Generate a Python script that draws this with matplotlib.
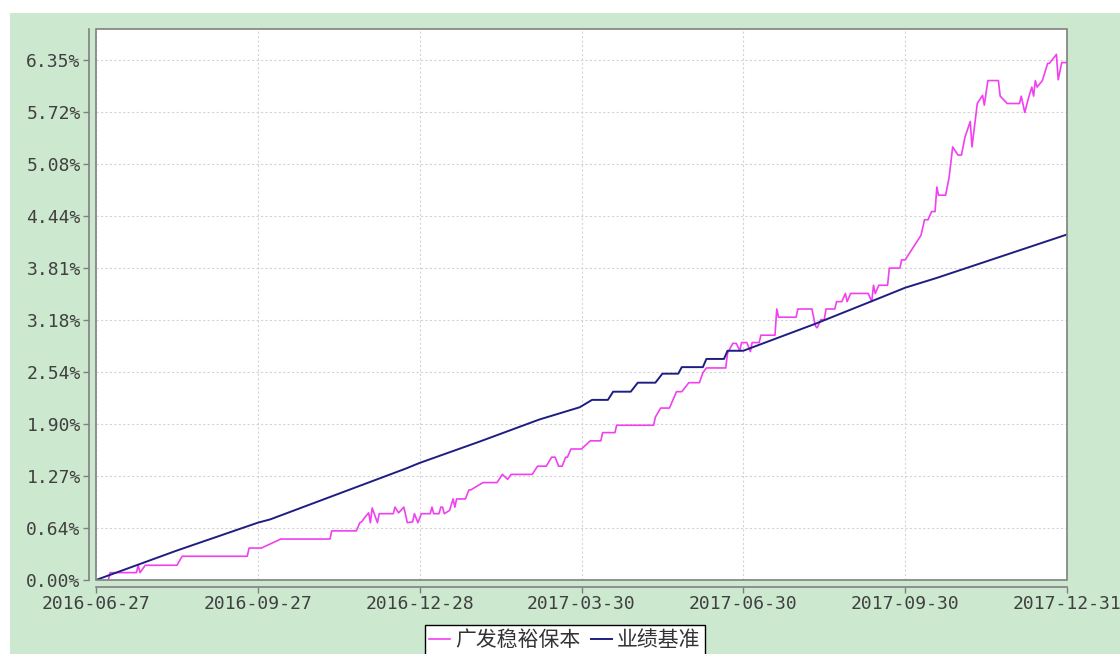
import matplotlib
matplotlib.use("Agg")
import matplotlib.pyplot as plt
import matplotlib.dates as mdates
from matplotlib.patches import Rectangle
import pandas as pd

# fund cumulative return (%)
fund_dates = [
    "2016-07-04", "2016-07-05", "2016-07-20", "2016-07-21", "2016-07-22", "2016-07-25",
    "2016-08-12", "2016-08-15", "2016-09-21", "2016-09-22", "2016-09-29", "2016-10-10",
    "2016-11-07", "2016-11-08", "2016-11-22", "2016-11-24", "2016-11-25", "2016-11-27",
    "2016-11-29", "2016-11-30", "2016-12-01", "2016-12-03", "2016-12-04", "2016-12-05",
    "2016-12-13", "2016-12-14", "2016-12-16", "2016-12-19", "2016-12-21", "2016-12-24",
    "2016-12-25", "2016-12-27", "2016-12-29", "2017-01-03", "2017-01-04", "2017-01-05",
    "2017-01-08", "2017-01-09", "2017-01-10", "2017-01-11", "2017-01-14", "2017-01-16",
    "2017-01-17", "2017-01-18", "2017-01-23", "2017-01-25", "2017-01-26", "2017-02-02",
    "2017-02-10", "2017-02-13", "2017-02-16", "2017-02-18", "2017-03-02", "2017-03-05",
    "2017-03-10", "2017-03-13", "2017-03-15", "2017-03-17", "2017-03-19", "2017-03-21",
    "2017-03-22", "2017-03-24", "2017-03-30", "2017-04-04", "2017-04-10", "2017-04-11",
    "2017-04-18", "2017-04-19", "2017-05-10", "2017-05-11", "2017-05-14", "2017-05-19",
    "2017-05-23", "2017-05-26", "2017-05-30", "2017-06-05", "2017-06-07", "2017-06-09",
    "2017-06-20", "2017-06-21", "2017-06-24", "2017-06-26", "2017-06-28", "2017-06-29",
    "2017-07-02", "2017-07-04", "2017-07-05", "2017-07-09", "2017-07-10", "2017-07-18",
    "2017-07-19", "2017-07-20", "2017-07-30", "2017-07-31", "2017-08-08", "2017-08-10",
    "2017-08-11", "2017-08-13", "2017-08-15", "2017-08-16", "2017-08-21", "2017-08-22",
    "2017-08-25", "2017-08-27", "2017-08-28", "2017-08-30", "2017-09-09", "2017-09-11",
    "2017-09-12", "2017-09-13", "2017-09-15", "2017-09-20", "2017-09-21", "2017-09-27",
    "2017-09-28", "2017-09-30", "2017-10-09", "2017-10-11", "2017-10-13", "2017-10-15",
    "2017-10-17", "2017-10-18", "2017-10-19", "2017-10-23", "2017-10-25", "2017-10-27",
    "2017-10-30", "2017-11-01", "2017-11-03", "2017-11-06", "2017-11-07", "2017-11-10",
    "2017-11-13", "2017-11-14", "2017-11-16", "2017-11-22", "2017-11-23", "2017-11-27",
    "2017-12-04", "2017-12-05", "2017-12-07", "2017-12-09", "2017-12-11", "2017-12-12",
    "2017-12-13", "2017-12-14", "2017-12-17", "2017-12-20", "2017-12-21", "2017-12-25",
    "2017-12-26", "2017-12-28", "2017-12-31",
]
fund_values = [
    0.00, 0.09, 0.09, 0.18, 0.09, 0.18,
    0.18, 0.29, 0.29, 0.39, 0.39, 0.50,
    0.50, 0.60, 0.60, 0.70, 0.71, 0.77,
    0.82, 0.70, 0.88, 0.76, 0.70, 0.81,
    0.81, 0.89, 0.82, 0.89, 0.70, 0.71,
    0.81, 0.70, 0.81, 0.81, 0.89, 0.81,
    0.81, 0.89, 0.89, 0.81, 0.85, 0.99,
    0.89, 0.99, 0.99, 1.10, 1.10, 1.19,
    1.19, 1.29, 1.23, 1.29, 1.29, 1.39,
    1.39, 1.50, 1.50, 1.39, 1.39, 1.50,
    1.50, 1.60, 1.60, 1.70, 1.70, 1.80,
    1.80, 1.89, 1.89, 1.99, 2.10, 2.10,
    2.30, 2.30, 2.41, 2.41, 2.53, 2.59,
    2.59, 2.77, 2.89, 2.89, 2.80, 2.90,
    2.90, 2.79, 2.90, 2.90, 2.99, 2.99,
    3.31, 3.21, 3.21, 3.31, 3.31, 3.10,
    3.08, 3.18, 3.18, 3.31, 3.31, 3.40,
    3.40, 3.50, 3.40, 3.50, 3.50, 3.40,
    3.60, 3.50, 3.60, 3.60, 3.81, 3.81,
    3.91, 3.91, 4.21, 4.40, 4.40, 4.50,
    4.50, 4.80, 4.70, 4.70, 4.92, 5.29,
    5.19, 5.19, 5.41, 5.60, 5.29, 5.82,
    5.92, 5.80, 6.10, 6.10, 5.91, 5.82,
    5.82, 5.91, 5.71, 5.88, 6.02, 5.91,
    6.10, 6.02, 6.10, 6.31, 6.31, 6.42,
    6.11, 6.32, 6.32,
]

# benchmark cumulative return (%)
bench_dates = [
    "2016-06-27", "2016-08-12", "2016-09-27", "2016-10-04", "2016-12-20", "2016-12-28",
    "2017-01-31", "2017-03-06", "2017-03-29", "2017-04-05", "2017-04-14", "2017-04-17",
    "2017-04-27", "2017-05-01", "2017-05-11", "2017-05-15", "2017-05-24", "2017-05-26",
    "2017-06-07", "2017-06-09", "2017-06-19", "2017-06-21", "2017-06-30", "2017-08-10",
    "2017-09-15", "2017-09-30", "2017-10-18", "2017-12-31",
]
bench_values = [
    0.00, 0.36, 0.70, 0.74, 1.36, 1.43,
    1.69, 1.96, 2.11, 2.20, 2.20, 2.30,
    2.30, 2.41, 2.41, 2.52, 2.52, 2.60,
    2.60, 2.70, 2.70, 2.80, 2.80, 3.13,
    3.44, 3.57, 3.69, 4.22,
]

series_names = ["广发稳裕保本", "业绩基准"]
x_ticks = ["2016-06-27", "2016-09-27", "2016-12-28", "2017-03-30",
           "2017-06-30", "2017-09-30", "2017-12-31"]
y_ticks = [0.0, 0.635, 1.27, 1.905, 2.54, 3.175, 3.81, 4.445, 5.08, 5.715, 6.35]
y_labels = ["0.00%", "0.64%", "1.27%", "1.90%", "2.54%", "3.18%",
            "3.81%", "4.44%", "5.08%", "5.72%", "6.35%"]

W, H = 1120, 654
fig = plt.figure(figsize=(W / 100, H / 100), dpi=100, facecolor="white")
fig.patches.append(Rectangle((10 / W, 0), 1, (H - 13) / H, transform=fig.transFigure,
                             facecolor="#cce8cf", edgecolor="none", zorder=-10))

ax = fig.add_axes([96 / W, (H - 580) / H, 971 / W, 551 / H])
ax.set_facecolor("white")

fund_x = pd.to_datetime(fund_dates)
bench_x = pd.to_datetime(bench_dates)
ax.plot(fund_x, fund_values, color="#f040f0", lw=1.2, label=series_names[0], zorder=3)
ax.plot(bench_x, bench_values, color="#1e1e82", lw=1.4, label=series_names[1], zorder=4)

ax.set_xlim(pd.Timestamp("2016-06-27"), pd.Timestamp("2017-12-31"))
ax.set_ylim(0, 6.73)
ax.set_xticks(pd.to_datetime(x_ticks))
ax.xaxis.set_major_formatter(mdates.DateFormatter("%Y-%m-%d"))
ax.set_yticks(y_ticks)
ax.set_yticklabels(y_labels)

ax.grid(True, color="#d4d4d4", linestyle=(0, (2, 2)), linewidth=0.8)
ax.set_axisbelow(True)

# plot border plus offset axis lines
for s in ["top", "right"]:
    ax.spines[s].set_visible(False)
for s in ["left", "bottom"]:
    ax.spines[s].set_position(("outward", 5))
    ax.spines[s].set_color("#808080")
    ax.spines[s].set_linewidth(1.2)
ax.add_patch(Rectangle((0, 0), 1, 1, transform=ax.transAxes, fill=False,
                       edgecolor="#808080", linewidth=1.2, clip_on=False, zorder=5))

ax.tick_params(axis="both", direction="out", length=4, width=1, color="#808080",
               labelcolor="#404040", labelsize=13, pad=2)
for lab in ax.get_xticklabels() + ax.get_yticklabels():
    lab.set_family("DejaVu Sans Mono")

leg = fig.legend(loc="upper center", bbox_to_anchor=(565 / W, (H - 625) / H), ncol=2,
                 frameon=True, fancybox=False, framealpha=1, handlelength=1.0,
                 handletextpad=0.25, columnspacing=0.5, borderpad=0.2, borderaxespad=0,
                 prop={"family": ["Noto Sans CJK SC", "DejaVu Sans"], "size": 15})
leg.get_frame().set_edgecolor("black")
leg.get_frame().set_facecolor("white")
leg.get_frame().set_linewidth(1.0)
for t in leg.get_texts():
    t.set_color("#333333")

fig.savefig("out.png", dpi=100, facecolor="white")
